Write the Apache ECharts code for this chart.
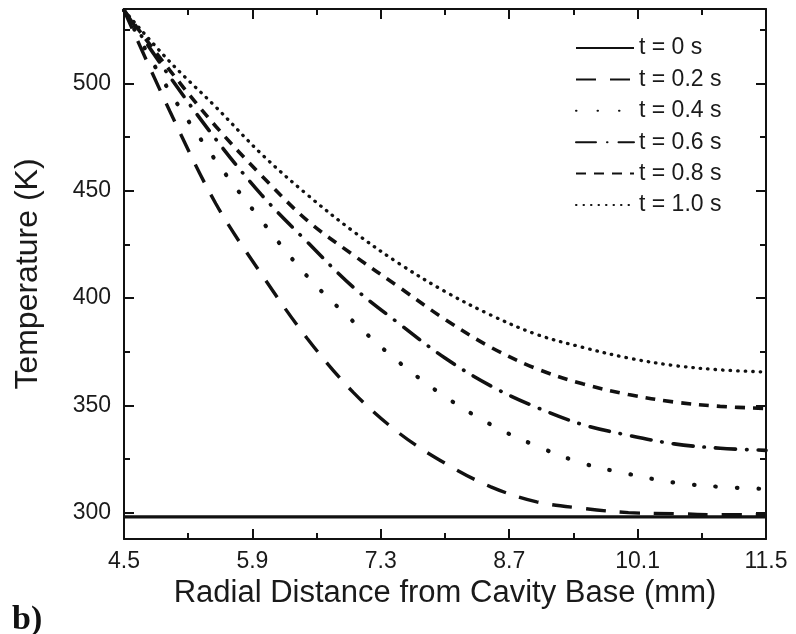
<!DOCTYPE html>
<html>
<head>
<meta charset="utf-8">
<script src="https://cdn.jsdelivr.net/npm/echarts@6/dist/echarts.min.js"></script>
<style>
  html, body { margin: 0; padding: 0; background: #ffffff; }
  #chart { width: 796px; height: 634px; }
</style>
</head>
<body>
<div id="chart"></div>
<script>
// ---- data ----
const xTicks = [4.5, 5.9, 7.3, 8.7, 10.1, 11.5];
const xMinorTicks = [5.2, 6.6, 8.0, 9.4, 10.8];
const yTicks = [300, 350, 400, 450, 500];
const yMinorTicks = [325, 375, 425, 475, 525];

const distance = [4.5, 5.0, 5.5, 6.0, 6.5, 7.0, 7.5, 8.0, 8.5, 9.0, 9.5, 10.0, 10.5, 11.0, 11.5];
const seriesNames = ['t = 0 s', 't = 0.2 s', 't = 0.4 s', 't = 0.6 s', 't = 0.8 s', 't = 1.0 s'];
const temp_t00 = [298, 298, 298, 298, 298, 298, 298, 298, 298, 298, 298, 298, 298, 298, 298];
const temp_t02 = [534, 487, 444, 411, 381, 356, 337, 323, 312, 305, 302, 300, 299.5, 299, 299];
const temp_t04 = [534, 496, 464, 436, 410, 389, 370, 354, 341, 331, 323, 318, 314, 312, 311];
const temp_t06 = [534, 503, 474, 448, 426, 405, 388, 372, 359, 349, 341, 336, 332, 330, 329];
const temp_t08 = [534, 506, 480, 457, 436, 420, 405, 390, 377, 367, 360, 355, 351.5, 349.5, 348.5];
const temp_t10 = [534, 510, 489, 467, 448, 431, 416, 403, 392, 383, 377, 372, 368.5, 366.5, 365.5];

const allTemps = [temp_t00, temp_t02, temp_t04, temp_t06, temp_t08, temp_t10];

// ---- styles ----
const FONT = '"Liberation Sans", Arial, sans-serif';
const INK = '#111111';
const dashStyles = [
  { type: 'solid', width: 3.4, cap: 'butt' },
  { type: [20, 14], width: 3.4, cap: 'butt' },
  { type: [0.5, 21], width: 4.2, cap: 'round' },
  { type: [20, 11, 0.5, 11], width: 3.6, cap: 'round' },
  { type: [10, 8], width: 3.6, cap: 'butt' },
  { type: [0.5, 7], width: 3.3, cap: 'round' }
];

const series = allTemps.map((arr, i) => ({
  name: seriesNames[i],
  type: 'line',
  xAxisIndex: 0,
  yAxisIndex: 0,
  smooth: 0.35,
  symbol: 'none',
  showSymbol: false,
  silent: true,
  animation: false,
  clip: true,
  lineStyle: Object.assign({ color: INK }, dashStyles[i]),
  itemStyle: { color: INK },
  data: distance.map((x, j) => [x, arr[j]])
}));

const X_MIN = 4.5, X_MAX = 11.5, Y_MIN = 287.7, Y_MAX = 534.6;
const axisLineStyle = { show: true, onZero: false, lineStyle: { color: INK, width: 2 } };

function xAxisDef(pos, ticks, len, labels, line, name) {
  return {
    type: 'value', position: pos, min: X_MIN, max: X_MAX,
    axisLine: line ? axisLineStyle : { show: false },
    splitLine: { show: false },
    axisTick: { show: true, inside: true, length: len, customValues: ticks, lineStyle: { color: INK, width: 2 } },
    axisLabel: labels ? {
      show: true, customValues: ticks, margin: 11, color: '#1a1a1a',
      fontFamily: FONT, fontSize: 23,
      formatter: v => (Math.round(v * 10) / 10).toFixed(1)
    } : { show: false },
    name: name || '', nameLocation: 'middle', nameGap: 34,
    nameTextStyle: { fontFamily: FONT, fontSize: 31, color: '#1a1a1a' }
  };
}
function yAxisDef(pos, ticks, len, labels, line, name) {
  return {
    type: 'value', position: pos, min: Y_MIN, max: Y_MAX,
    axisLine: line ? axisLineStyle : { show: false },
    splitLine: { show: false },
    axisTick: { show: true, inside: true, length: len, customValues: ticks, lineStyle: { color: INK, width: 2 } },
    axisLabel: labels ? {
      show: true, customValues: ticks, margin: 13, color: '#1a1a1a',
      fontFamily: FONT, fontSize: 23
    } : { show: false },
    name: name || '', nameLocation: 'middle', nameGap: 80, nameRotate: 90,
    nameTextStyle: { fontFamily: FONT, fontSize: 32, color: '#1a1a1a' }
  };
}

const option = {
  backgroundColor: '#ffffff',
  animation: false,
  grid: { left: 124, right: 30, top: 9, bottom: 95, containLabel: false },
  xAxis: [
    xAxisDef('bottom', xTicks, 10, true, true, 'Radial Distance from Cavity Base (mm)'),
    xAxisDef('top', xTicks, 10, false, true),
    xAxisDef('bottom', xMinorTicks, 6, false, false),
    xAxisDef('top', xMinorTicks, 6, false, false)
  ],
  yAxis: [
    yAxisDef('left', yTicks, 10, true, true, 'Temperature (K)'),
    yAxisDef('right', yTicks, 10, false, true),
    yAxisDef('left', yMinorTicks, 6, false, false),
    yAxisDef('right', yMinorTicks, 6, false, false)
  ],
  legend: {
    data: seriesNames,
    orient: 'vertical',
    left: 575,
    top: 36.5,
    padding: 0,
    itemWidth: 58,
    itemHeight: 14,
    itemGap: 8.4,
    selectedMode: false,
    itemStyle: { opacity: 0, color: 'rgba(0,0,0,0)', borderWidth: 0 },
    textStyle: { fontFamily: FONT, fontSize: 23, color: '#1a1a1a', lineHeight: 23 }
  },
  graphic: [{
    type: 'text',
    left: 12,
    top: 603,
    style: { text: 'b)', font: 'bold 34px "Liberation Serif", "Times New Roman", serif', fill: '#111111' }
  }],
  series: series
};

const chart = echarts.init(document.getElementById('chart'), null, { renderer: 'canvas' });
chart.setOption(option);
</script>
</body>
</html>
